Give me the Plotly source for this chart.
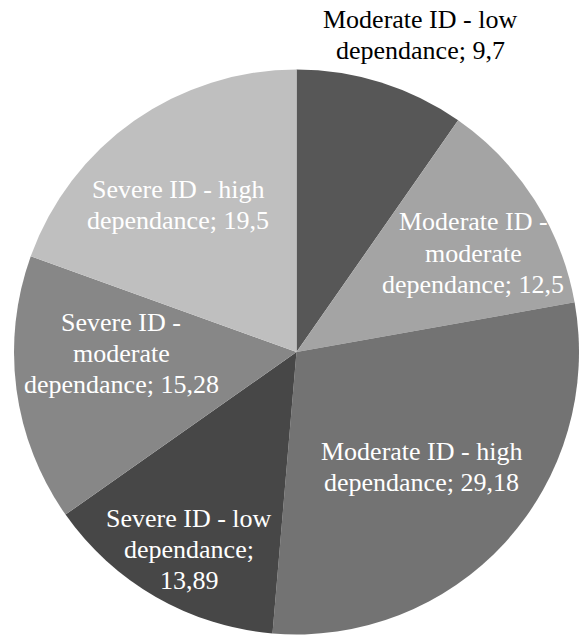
import plotly.graph_objects as go

# ---- data ----
categories = [
    "Moderate ID - low dependance",
    "Moderate ID - moderate dependance",
    "Moderate ID - high dependance",
    "Severe ID - low dependance",
    "Severe ID - moderate dependance",
    "Severe ID - high dependance",
]
values = [9.7, 12.5, 29.18, 13.89, 15.28, 19.5]
value_labels = ["9,7", "12,5", "29,18", "13,89", "15,28", "19,5"]
label_lines = [
    ["Moderate ID - low", "dependance; {v}"],
    ["Moderate ID -", "moderate", "dependance; {v}"],
    ["Moderate ID - high", "dependance; {v}"],
    ["Severe ID - low", "dependance;", "{v}"],
    ["Severe ID -", "moderate", "dependance; {v}"],
    ["Severe ID - high", "dependance; {v}"],
]

# ---- style ----
colors = ["#575757", "#a4a4a4", "#737373", "#474747", "#878787", "#bfbfbf"]
text_colors = ["#000000", "#ffffff", "#ffffff", "#ffffff", "#ffffff", "#ffffff"]
# label block centers in pixels (x, y)
label_pos = [(420, 35), (473, 253), (421, 467), (189, 549), (121, 353), (178, 205)]
LINE_GAP = 31  # px between text lines

W, H = 579, 635
ML, MR, MT, MB = 14, 0, 69, 0
FONT = "Times New Roman, Liberation Serif, DejaVu Serif, serif"

fig = go.Figure(
    go.Pie(
        labels=categories,
        values=values,
        sort=False,
        direction="clockwise",
        rotation=0,
        marker=dict(colors=colors, line=dict(width=0)),
        textinfo="none",
        hoverinfo="label+value",
        showlegend=False,
    )
)

pw, ph = W - ML - MR, H - MT - MB
annotations = []
for lines, v, (px, py), tc in zip(label_lines, value_labels, label_pos, text_colors):
    n = len(lines)
    for i, l in enumerate(lines):
        ly = py + (i - (n - 1) / 2) * LINE_GAP
        annotations.append(
            dict(
                x=(px - ML) / pw,
                y=1 - (ly - MT) / ph,
                xref="paper",
                yref="paper",
                text=l.format(v=v),
                showarrow=False,
                xanchor="center",
                yanchor="middle",
                align="center",
                font=dict(family=FONT, size=26, color=tc),
            )
        )

fig.update_layout(
    width=W,
    height=H,
    margin=dict(l=ML, r=MR, t=MT, b=MB),
    paper_bgcolor="white",
    plot_bgcolor="white",
    annotations=annotations,
    font=dict(family=FONT),
)

fig.write_html("out.html")
